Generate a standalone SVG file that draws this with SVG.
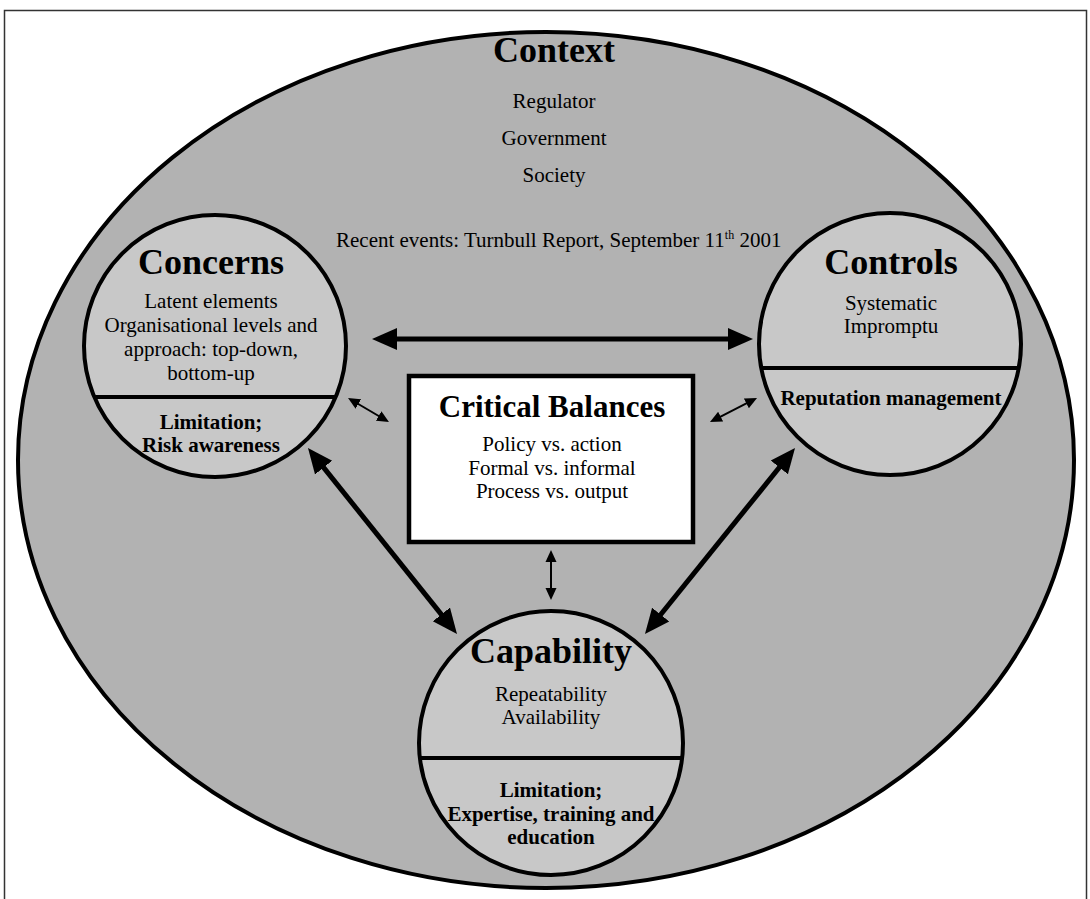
<svg xmlns="http://www.w3.org/2000/svg" width="1090" height="899" viewBox="0 0 1090 899">
  <style>
    text { font-family: "Liberation Serif", "Times New Roman", serif; fill: #000; text-anchor: middle; }
    .title { font-size: 36px; font-weight: bold; }
    .sub { font-size: 31px; font-weight: bold; }
    .body { font-size: 21px; }
    .bold { font-size: 21px; font-weight: bold; }
    .ring { fill: #c8c8c8; stroke: #000; stroke-width: 4; }
    .divider { stroke: #000; stroke-width: 4; }
    .big { stroke: #000; stroke-width: 5; fill: none; marker-start: url(#headBig); marker-end: url(#headBig); }
    .small { stroke: #000; stroke-width: 2; fill: none; marker-start: url(#headSmall); marker-end: url(#headSmall); }
  </style>
  <defs>
    <marker id="headBig" markerUnits="userSpaceOnUse" markerWidth="26" markerHeight="24" viewBox="0 -12 26 24" refX="13" refY="0" orient="auto-start-reverse">
      <path d="M0,-11 L25,0 L0,11 z" fill="#000"/>
    </marker>
    <marker id="headSmall" markerUnits="userSpaceOnUse" markerWidth="13" markerHeight="12" viewBox="0 -6 13 12" refX="6" refY="0" orient="auto-start-reverse">
      <path d="M0,-5.5 L12,0 L0,5.5 z" fill="#000"/>
    </marker>
    <clipPath id="clipConcerns"><circle cx="215" cy="346" r="131"/></clipPath>
    <clipPath id="clipControls"><circle cx="890" cy="344" r="131"/></clipPath>
    <clipPath id="clipCapability"><circle cx="551" cy="743" r="132"/></clipPath>
  </defs>

  <rect width="1090" height="899" fill="#fff"/>
  <!-- page frame -->
  <rect x="4.5" y="10.5" width="1082" height="900" fill="none" stroke="#333" stroke-width="1.5"/>

  <!-- outer context -->
  <g id="context">
    <ellipse cx="546" cy="460" rx="528" ry="428" fill="#b2b2b2" stroke="#000" stroke-width="4"/>
    <text class="title" x="554" y="62">Context</text>
    <text class="body" x="554" y="108">Regulator</text>
    <text class="body" x="554" y="145">Government</text>
    <text class="body" x="554" y="182">Society</text>
    <text class="body" x="336" y="247" style="text-anchor:start">Recent events: Turnbull Report, September 11<tspan font-size="12" dy="-8">th</tspan><tspan dy="8"> 2001</tspan></text>
  </g>

  <g id="concerns">
    <circle class="ring" cx="215" cy="346" r="131"/>
    <line class="divider" x1="80" y1="397" x2="350" y2="397" clip-path="url(#clipConcerns)"/>
    <text class="title" x="211" y="274">Concerns</text>
    <text class="body" x="211" y="308">Latent elements</text>
    <text class="body" x="211" y="332">Organisational levels and</text>
    <text class="body" x="211" y="356">approach: top-down,</text>
    <text class="body" x="211" y="380">bottom-up</text>
    <text class="bold" x="211" y="429">Limitation;</text>
    <text class="bold" x="211" y="452">Risk awareness</text>
  </g>

  <g id="controls">
    <circle class="ring" cx="890" cy="344" r="131"/>
    <line class="divider" x1="755" y1="368" x2="1025" y2="368" clip-path="url(#clipControls)"/>
    <text class="title" x="891" y="274">Controls</text>
    <text class="body" x="891" y="310">Systematic</text>
    <text class="body" x="891" y="333">Impromptu</text>
    <text class="bold" x="891" y="405">Reputation management</text>
  </g>

  <g id="capability">
    <circle class="ring" cx="551" cy="743" r="132"/>
    <line class="divider" x1="415" y1="758" x2="690" y2="758" clip-path="url(#clipCapability)"/>
    <text class="title" x="551" y="663">Capability</text>
    <text class="body" x="551" y="701">Repeatability</text>
    <text class="body" x="551" y="724">Availability</text>
    <text class="bold" x="551" y="797">Limitation;</text>
    <text class="bold" x="551" y="821">Expertise, training and</text>
    <text class="bold" x="551" y="844">education</text>
  </g>

  <g id="critical-balances">
    <rect x="409" y="376" width="284" height="166" fill="#fff" stroke="#000" stroke-width="4.5"/>
    <text class="sub" x="552" y="417">Critical Balances</text>
    <text class="body" x="552" y="451">Policy vs. action</text>
    <text class="body" x="552" y="475">Formal vs. informal</text>
    <text class="body" x="552" y="498">Process vs. output</text>
  </g>

  <g id="connectors">
    <line class="big" x1="384" y1="339" x2="741" y2="339"/>
    <line class="big" x1="315.5" y1="457.4" x2="449.5" y2="624.6"/>
    <line class="big" x1="787.5" y1="457.3" x2="652.5" y2="624.7"/>
    <line class="small" x1="353.2" y1="401" x2="383.8" y2="419"/>
    <line class="small" x1="715.3" y1="419.3" x2="751.7" y2="400.7"/>
    <line class="small" x1="551" y1="556" x2="551" y2="594"/>
  </g>
</svg>
